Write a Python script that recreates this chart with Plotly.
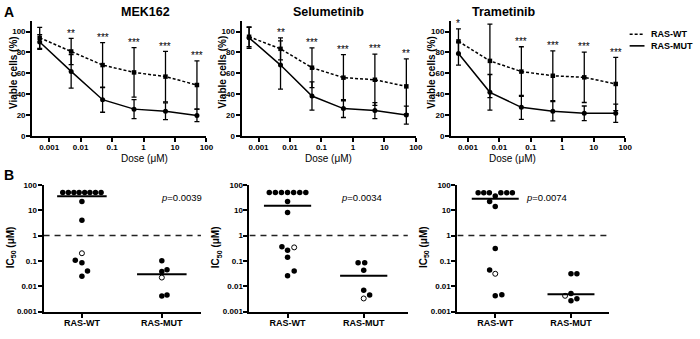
import numpy as np
import plotly.graph_objects as go

# ---------------- data ----------------
DRUGS = ["MEK162", "Selumetinib", "Trametinib"]
DOSES = [0.0005, 0.005, 0.05, 0.5, 5, 50]
DOSE_TICKS = [0.001, 0.01, 0.1, 1, 10, 100]
DOSE_TICK_TEXT = ["0.001", "0.01", "0.1", "1", "10", "100"]
VIAB_TICKS = [0, 20, 40, 60, 80, 100]

mek_wt_mean = [94, 81, 68, 61, 57, 49]
mek_wt_sd = [10, 12.5, 21.5, 23.6, 24, 23]
mek_mut_mean = [90, 62, 35, 26, 24, 20]
mek_mut_sd = [7, 16, 12, 9, 8, 6]
mek_stars = ["", "**", "***", "***", "***", "***"]

sel_wt_mean = [95, 83.5, 65.5, 56, 54, 47.7]
sel_wt_sd = [9.5, 10.5, 19, 22, 24.5, 26.3]
sel_mut_mean = [94, 68, 38.5, 26.5, 24.6, 20.3]
sel_mut_sd = [10, 23, 13.5, 8.5, 7.6, 8.6]
sel_stars = ["", "**", "***", "***", "***", "**"]

tra_wt_mean = [90.6, 72, 61.8, 57.8, 56.3, 50]
tra_wt_sd = [12, 35, 23.7, 23.7, 24, 25.4]
tra_mut_mean = [79, 42, 27.7, 24, 22, 22]
tra_mut_sd = [11, 17, 11.4, 9.2, 7, 8.7]
tra_stars = ["*", "***", "***", "***", "***", "***"]

GROUPS = ["RAS-WT", "RAS-MUT"]
IC50_TICKS = [0.001, 0.01, 0.1, 1, 10, 100]
IC50_TICK_TEXT = ["0.001", "0.01", "0.1", "1", "10", "100"]
THRESHOLD = 1

# IC50 values (uM); filled = filled circles, open = open circles
mek_wt_filled = [50, 50, 50, 50, 50, 50, 50, 50, 22, 4, 0.105, 0.085, 0.04, 0.025]
mek_wt_open = [0.2]
mek_mut_filled = [0.1, 0.045, 0.038, 0.0045, 0.0041]
mek_mut_open = [0.022]
mek_median = [35.6, 0.030]
mek_p = "0.0039"

sel_wt_filled = [50, 50, 50, 50, 50, 50, 50, 22, 8, 0.36, 0.26, 0.14, 0.04, 0.026]
sel_wt_open = [0.34]
sel_mut_filled = [0.085, 0.085, 0.043, 0.0069, 0.0045]
sel_mut_open = [0.0033]
sel_median = [14.8, 0.026]
sel_p = "0.0034"

tra_wt_filled = [48, 48, 48, 48, 48, 48, 36, 22, 14, 0.31, 0.044, 0.0042, 0.0046]
tra_wt_open = [0.031]
tra_mut_filled = [0.031, 0.031, 0.0052, 0.0027, 0.0032]
tra_mut_open = [0.0042]
tra_median = [28, 0.0048]
tra_p = "0.0074"

# horizontal jitter of the scatter dots (layout only)
mek_jit = dict(wt_f=[-0.24, -0.17, -0.1, -0.035, 0.035, 0.1, 0.17, 0.24, 0, 0, -0.083, 0, 0.07, 0],
               wt_o=[0], mut_f=[0, 0.065, 0, 0.065, 0], mut_o=[0])
sel_jit = dict(wt_f=[-0.24, -0.16, -0.08, 0, 0.08, 0.16, 0.24, 0, 0, -0.074, 0, 0, 0.087, 0],
               wt_o=[0.087], mut_f=[-0.074, 0.013, 0, 0, 0.078], mut_o=[0])
tra_jit = dict(wt_f=[-0.226, -0.152, -0.078, 0.074, 0.152, 0.226, 0, -0.074, 0, 0, -0.074, 0, 0.087],
               wt_o=[0], mut_f=[0, 0.078, 0, 0, 0.078], mut_o=[-0.078])

# ---------------- layout helpers ----------------
W, H = 700, 339
FONT = "Liberation Sans, Arial, sans-serif"

def px_x(p):
    return p / W

def px_y(p):
    return 1 - p / H

top_x_dom = [(32.5, 208.5), (244, 420), (455.5, 631.5)]
top_y_dom = (136, 17.5)  # (bottom px, top px)
bot_x_dom = [(44, 203), (252, 412), (462, 615)]
bot_y_dom = (316, 185.7)
bot_x_range = [[0.52, 2.49], [0.5, 2.58], [0.5, 2.5]]

fig = go.Figure()

top_sets = [
    (mek_wt_mean, mek_wt_sd, mek_mut_mean, mek_mut_sd, mek_stars),
    (sel_wt_mean, sel_wt_sd, sel_mut_mean, sel_mut_sd, sel_stars),
    (tra_wt_mean, tra_wt_sd, tra_mut_mean, tra_mut_sd, tra_stars),
]
bot_sets = [
    (mek_wt_filled, mek_wt_open, mek_mut_filled, mek_mut_open, mek_median, mek_p, mek_jit),
    (sel_wt_filled, sel_wt_open, sel_mut_filled, sel_mut_open, sel_median, sel_p, sel_jit),
    (tra_wt_filled, tra_wt_open, tra_mut_filled, tra_mut_open, tra_median, tra_p, tra_jit),
]

annotations = []
shapes = []
tickfont = dict(family=FONT, size=8, color="black", weight="bold")

for i, (wm, ws, mm, ms, stars) in enumerate(top_sets):
    n = i + 1
    xa, ya = f"x{n}" if n > 1 else "x", f"y{n}" if n > 1 else "y"
    fig.add_trace(go.Scatter(
        x=DOSES, y=wm, xaxis=xa, yaxis=ya, mode="lines+markers",
        line=dict(color="black", width=1.5, dash="3px,2px"),
        marker=dict(symbol="square", size=4.5, color="black"),
        error_y=dict(type="data", array=ws, visible=True, color="black", thickness=1.3, width=2.5),
        showlegend=False, cliponaxis=False))
    fig.add_trace(go.Scatter(
        x=DOSES, y=mm, xaxis=xa, yaxis=ya, mode="lines+markers",
        line=dict(color="black", width=1.5),
        marker=dict(symbol="circle", size=5, color="black"),
        error_y=dict(type="data", array=ms, visible=True, color="black", thickness=1.3, width=2.5),
        showlegend=False, cliponaxis=False))
    for d, s, a, b, c, e in zip(DOSES, stars, wm, ws, mm, ms):
        if s:
            top = max(a + b, c + e)
            annotations.append(dict(x=np.log10(d), y=top + 5, xref=xa, yref=ya, text=s,
                                    showarrow=False, font=dict(family=FONT, size=10, color="black"),
                                    yanchor="middle"))
    x0, x1 = top_x_dom[i]
    fig.layout[("xaxis" if n == 1 else f"xaxis{n}")] = dict(
        domain=[px_x(x0), px_x(x1)], anchor=ya, type="log", range=[-3.54, 2.0],
        tickvals=DOSE_TICKS, ticktext=DOSE_TICK_TEXT, ticks="outside", ticklen=4,
        tickwidth=1.5, tickcolor="black", showline=True, linewidth=2, linecolor="black",
        showgrid=False, zeroline=False, tickfont=tickfont, ticklabelstandoff=-2)
    fig.layout[("yaxis" if n == 1 else f"yaxis{n}")] = dict(
        domain=[px_y(top_y_dom[0]), px_y(top_y_dom[1])], anchor=xa, range=[0, 110],
        tickvals=VIAB_TICKS, ticks="outside", ticklen=4, tickwidth=1.5, tickcolor="black",
        showline=True, linewidth=2, linecolor="black", showgrid=False, zeroline=False,
        tickfont=tickfont, ticklabelstandoff=-1)
    # titles
    annotations.append(dict(x=px_x((x0 + x1) / 2), y=px_y(8), xref="paper", yref="paper",
                            text=DRUGS[i], showarrow=False, yanchor="middle",
                            font=dict(family=FONT, size=12.5, color="black", weight="bold")))
    annotations.append(dict(x=px_x((x0 + x1) / 2), y=px_y(159), xref="paper", yref="paper",
                            text="Dose (μM)", showarrow=False, yanchor="middle",
                            font=dict(family=FONT, size=10, color="black")))
    annotations.append(dict(x=px_x(x0 - 19.5), y=px_y(70), xref="paper", yref="paper",
                            text="Viable cells (%)", showarrow=False, textangle=-90,
                            xanchor="center", yanchor="middle",
                            font=dict(family=FONT, size=10, color="black", weight="bold")))

for i, (wf, wo, mf, mo, med, p, jit) in enumerate(bot_sets):
    n = i + 4
    xa, ya = f"x{n}", f"y{n}"
    half = 0.31
    lo, hi = bot_x_range[i]
    # threshold line
    fig.add_trace(go.Scatter(x=[lo, hi], y=[THRESHOLD, THRESHOLD], xaxis=xa, yaxis=ya,
                             mode="lines", line=dict(color="#222", width=1.3, dash="6px,5px"),
                             showlegend=False, hoverinfo="skip"))
    for g, (vf, vo, jf, jo) in enumerate([(wf, wo, jit["wt_f"], jit["wt_o"]),
                                           (mf, mo, jit["mut_f"], jit["mut_o"])]):
        c = g + 1
        fig.add_trace(go.Scatter(x=[c + j for j in jf], y=vf, xaxis=xa, yaxis=ya, mode="markers",
                                 marker=dict(symbol="circle", size=5.5, color="black"),
                                 showlegend=False, cliponaxis=False))
        fig.add_trace(go.Scatter(x=[c + j for j in jo], y=vo, xaxis=xa, yaxis=ya, mode="markers",
                                 marker=dict(symbol="circle", size=5, color="white",
                                             line=dict(color="black", width=1)),
                                 showlegend=False, cliponaxis=False))
        fig.add_trace(go.Scatter(x=[c - half, c + half], y=[med[g], med[g]], xaxis=xa, yaxis=ya,
                                 mode="lines", line=dict(color="black", width=2),
                                 showlegend=False))
    x0, x1 = bot_x_dom[i]
    fig.layout[f"xaxis{n}"] = dict(
        domain=[px_x(x0), px_x(x1)], anchor=ya, range=bot_x_range[i],
        tickvals=[1, 2], ticktext=GROUPS, ticks="outside", ticklen=4, tickwidth=1.5,
        tickcolor="black", showline=True, linewidth=2, linecolor="black", showgrid=False,
        zeroline=False, tickfont=dict(family=FONT, size=9, color="black", weight="bold"),
        ticklabelstandoff=-2)
    fig.layout[f"yaxis{n}"] = dict(
        domain=[px_y(bot_y_dom[0]), px_y(bot_y_dom[1])], anchor=xa, type="log", range=[-3, 2],
        tickvals=IC50_TICKS, ticktext=IC50_TICK_TEXT, ticks="outside", ticklen=4, tickwidth=1.5,
        tickcolor="black", showline=True, linewidth=2, linecolor="black", showgrid=False,
        zeroline=False, tickfont=tickfont, ticklabelstandoff=-1)
    annotations.append(dict(x=px_x(x0 - 33), y=px_y(250), xref="paper", yref="paper",
                            text="IC<sub>50</sub> (μM)", showarrow=False, textangle=-90,
                            xanchor="center", yanchor="middle",
                            font=dict(family=FONT, size=10, color="black", weight="bold")))
    px_p = [161, 365, 575][i]
    annotations.append(dict(x=px_x(px_p), y=px_y(199), xref="paper", yref="paper",
                            text=f"<i>p</i>={p}", showarrow=False, yanchor="middle",
                            font=dict(family=FONT, size=9.5, color="black")))

# panel letters
annotations.append(dict(x=px_x(2), y=px_y(8), xref="paper", yref="paper", text="A",
                        showarrow=False, xanchor="left", yanchor="middle",
                        font=dict(family=FONT, size=14, color="black", weight="bold")))
annotations.append(dict(x=px_x(2), y=px_y(176), xref="paper", yref="paper", text="B",
                        showarrow=False, xanchor="left", yanchor="middle",
                        font=dict(family=FONT, size=14, color="black", weight="bold")))

# legend (drawn manually)
for k, (lab, dash) in enumerate([("RAS-WT", "3px,2px"), ("RAS-MUT", "solid")]):
    yy = [31, 43][k]
    shapes.append(dict(type="line", xref="paper", yref="paper", x0=px_x(636), x1=px_x(651),
                       y0=px_y(yy), y1=px_y(yy), line=dict(color="black", width=1.6, dash=dash)))
    annotations.append(dict(x=px_x(656), y=px_y(yy), xref="paper", yref="paper", text=lab,
                            showarrow=False, xanchor="left", yanchor="middle",
                            font=dict(family=FONT, size=9, color="black", weight="bold")))

fig.update_layout(width=W, height=H, margin=dict(l=0, r=0, t=0, b=0),
                  paper_bgcolor="white", plot_bgcolor="white",
                  annotations=annotations, shapes=shapes, showlegend=False,
                  font=dict(family=FONT, color="black"))

fig.write_html("out.html", config={"displayModeBar": False},
               post_script="document.body.style.margin='0';document.body.style.overflow='hidden';")
